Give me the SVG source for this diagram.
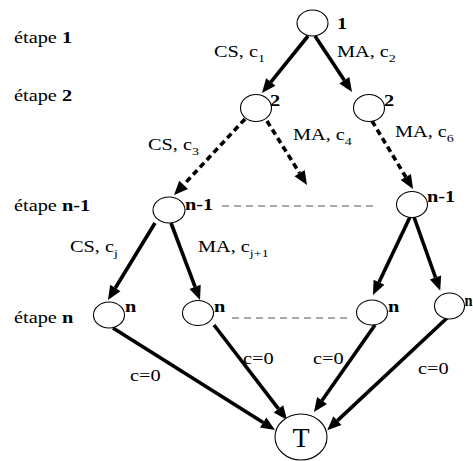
<svg xmlns="http://www.w3.org/2000/svg" width="473" height="461" viewBox="0 0 473 461">
<style>
text{font-family:"Liberation Serif","Times New Roman",serif;font-size:16px;fill:#000}
.b{font-weight:bold}
.s{font-size:11px}
.node{fill:#fff;stroke:#000;stroke-width:1.1}
.a{fill:none;stroke:#000;stroke-width:3.6;marker-end:url(#ah)}
.d{stroke-dasharray:6 4}
.h{fill:none;stroke:#555;stroke-width:1;stroke-dasharray:7 5}
</style>
<defs>
<marker id="ah" markerUnits="userSpaceOnUse" markerWidth="16" markerHeight="14" refX="0" refY="6" orient="auto" overflow="visible"><path d="M0,0 L14,6 L0,12 z" fill="#000"/></marker>
</defs>
<g id="stages">
<text transform="translate(14,43) scale(1.27,1)">étape <tspan class="b">1</tspan></text>
<text transform="translate(14,101) scale(1.27,1)">étape <tspan class="b">2</tspan></text>
<text transform="translate(14,211) scale(1.27,1)">étape <tspan class="b">n-1</tspan></text>
<text transform="translate(14,323) scale(1.27,1)">étape <tspan class="b">n</tspan></text>
</g>
<g id="connectors">
<path class="a" d="M308,36 L270.8,82.1"/>
<path class="a" d="M315,36 L344.3,80.3"/>
<path class="a d" d="M245,119 L183.6,184.8"/>
<path class="a d" d="M267,121 L299.6,173.1"/>
<path class="a d" d="M372,121 L405.8,177"/>
<path class="a" d="M155,223 L115.3,288"/>
<path class="a" d="M171,223 L195.1,286.9"/>
<path class="a" d="M410,217 L379,282.3"/>
<path class="a" d="M414,217 L435.5,277.5"/>
<path class="a" d="M113,328 L263.2,422.5"/>
<path class="a" d="M214,325 L278.5,408.9"/>
<path class="a" d="M375,325 L322,400.5"/>
<path class="a" d="M447,318 L337.4,420.6"/>
<path class="h" d="M222,206 L377,206"/>
<path class="h" d="M232,318 L350,318"/>
</g>
<g id="edge-labels">
<text transform="translate(214,57) scale(1.27,1)">CS, c<tspan class="s" dy="5">1</tspan></text>
<text transform="translate(337,57) scale(1.27,1)">MA, c<tspan class="s" dy="5">2</tspan></text>
<text transform="translate(148,150) scale(1.27,1)">CS, c<tspan class="s" dy="5">3</tspan></text>
<text transform="translate(293,140) scale(1.27,1)">MA, c<tspan class="s" dy="5">4</tspan></text>
<text transform="translate(395,137) scale(1.27,1)">MA, c<tspan class="s" dy="5">6</tspan></text>
<text transform="translate(70,252) scale(1.27,1)">CS, c<tspan class="s" dy="5">j</tspan></text>
<text transform="translate(198,252) scale(1.27,1)">MA, c<tspan class="s" dy="5">j+1</tspan></text>
<text transform="translate(130,381) scale(1.27,1)">c=0</text>
<text transform="translate(243,364) scale(1.27,1)">c=0</text>
<text transform="translate(313,364) scale(1.27,1)">c=0</text>
<text transform="translate(418,374) scale(1.27,1)">c=0</text>
</g>
<g id="n1"><ellipse class="node" cx="312.5" cy="23" rx="15.5" ry="13"/><text class="b" transform="translate(337,29) scale(1.27,1)">1</text></g>
<g id="n2a"><ellipse class="node" cx="256" cy="108" rx="15.5" ry="13.5"/><text class="b" transform="translate(270,106) scale(1.27,1)">2</text></g>
<g id="n2b"><ellipse class="node" cx="369" cy="108" rx="15.5" ry="13.5"/><text class="b" transform="translate(384,106) scale(1.27,1)">2</text></g>
<g id="nn1a"><ellipse class="node" cx="169" cy="210" rx="16" ry="13"/><text class="b" transform="translate(185,210) scale(1.27,1)">n-1</text></g>
<g id="nn1b"><ellipse class="node" cx="412" cy="204.5" rx="15.5" ry="13"/><text class="b" transform="translate(427,202) scale(1.27,1)">n-1</text></g>
<g id="nna"><ellipse class="node" cx="109" cy="315" rx="15.5" ry="13"/><text class="b" transform="translate(125,312) scale(1.27,1)">n</text></g>
<g id="nnb"><ellipse class="node" cx="198" cy="313" rx="15.5" ry="12.5"/><text class="b" transform="translate(214,312) scale(1.27,1)">n</text></g>
<g id="nnc"><ellipse class="node" cx="372" cy="312.5" rx="15.5" ry="12.5"/><text class="b" transform="translate(388,312) scale(1.27,1)">n</text></g>
<g id="nnd"><ellipse class="node" cx="449.5" cy="306" rx="15" ry="13"/><text class="b" transform="translate(464.5,306) scale(0.9,1)">n</text></g>
<g id="T"><ellipse class="node" cx="301" cy="437" rx="26" ry="23"/><text x="301" y="447" text-anchor="middle" style="font-size:28px">T</text></g>
</svg>
